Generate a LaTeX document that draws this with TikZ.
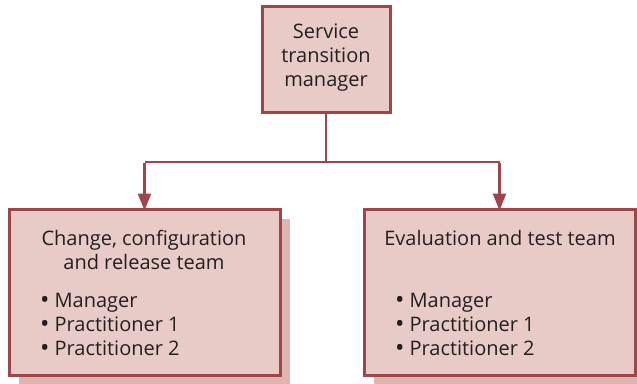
\documentclass[tikz,border=0pt]{standalone}
\usepackage{fontspec}
\setmainfont{Open Sans}
\usetikzlibrary{arrows.meta}
\definecolor{boxfill}{HTML}{E8CBC6}
\definecolor{boxline}{HTML}{A0464A}
\definecolor{shadowc}{HTML}{DDB5B1}
\definecolor{txt}{HTML}{231F20}
\newcommand{\bul}{{\fontsize{25}{24}\selectfont\raisebox{-0.6pt}{\textbullet}}\hspace{5pt}}
\tikzset{
  box/.style={draw=boxline, line width=3pt, fill=boxfill, inner sep=0pt, outer sep=0pt},
  conn/.style={draw=boxline, line width=2.6pt, -{Triangle[length=17pt,width=13pt]}},
  connplain/.style={draw=boxline, line width=2.6pt},
  lbl/.style={text=txt, font=\fontsize{20}{24}\selectfont, inner sep=0pt},
}
\begin{document}
\begin{tikzpicture}[x=1pt,y=-1pt]
\useasboundingbox (0,0) rectangle (637,383);
% shadows
\fill[shadowc] (19,219) rectangle (290,390);
\fill[shadowc] (374,219) rectangle (646,390);
% boxes
\node[box, minimum width=128pt, minimum height=106pt] (topbox) at (326,59) {};
\node[box, minimum width=271pt, minimum height=166pt] (lbox) at (144.5,292) {};
\node[box, minimum width=271pt, minimum height=166pt] (rbox) at (499.5,292) {};
\node[lbl, align=center] (top) at (326,58) {Service\\transition\\manager};
\node[lbl, align=center] (lt) at (144,250) {Change, configuration\\and release team};
\node[lbl, align=center] (rt) at (500,238) {Evaluation and test team};
\node[lbl, align=left, anchor=west] (lb) at (40,325) {\bul Manager\\\bul Practitioner 1\\\bul Practitioner 2};
\node[lbl, align=left, anchor=west] (rb) at (395,325) {\bul Manager\\\bul Practitioner 1\\\bul Practitioner 2};
% connectors
\coordinate (j) at (topbox.south |- 0,162);
\coordinate (jl) at (lbox.north |- 0,162);
\coordinate (jr) at (rbox.north |- 0,162);
\draw[connplain] (topbox.south) -- (j);
\draw[connplain] (jl) -- (jr);
\draw[conn] ([yshift=-1.3pt]jl) -- ([yshift=-1.5pt]lbox.north);
\draw[conn] ([yshift=-1.3pt]jr) -- ([yshift=-1.5pt]rbox.north);
\end{tikzpicture}
\end{document}
